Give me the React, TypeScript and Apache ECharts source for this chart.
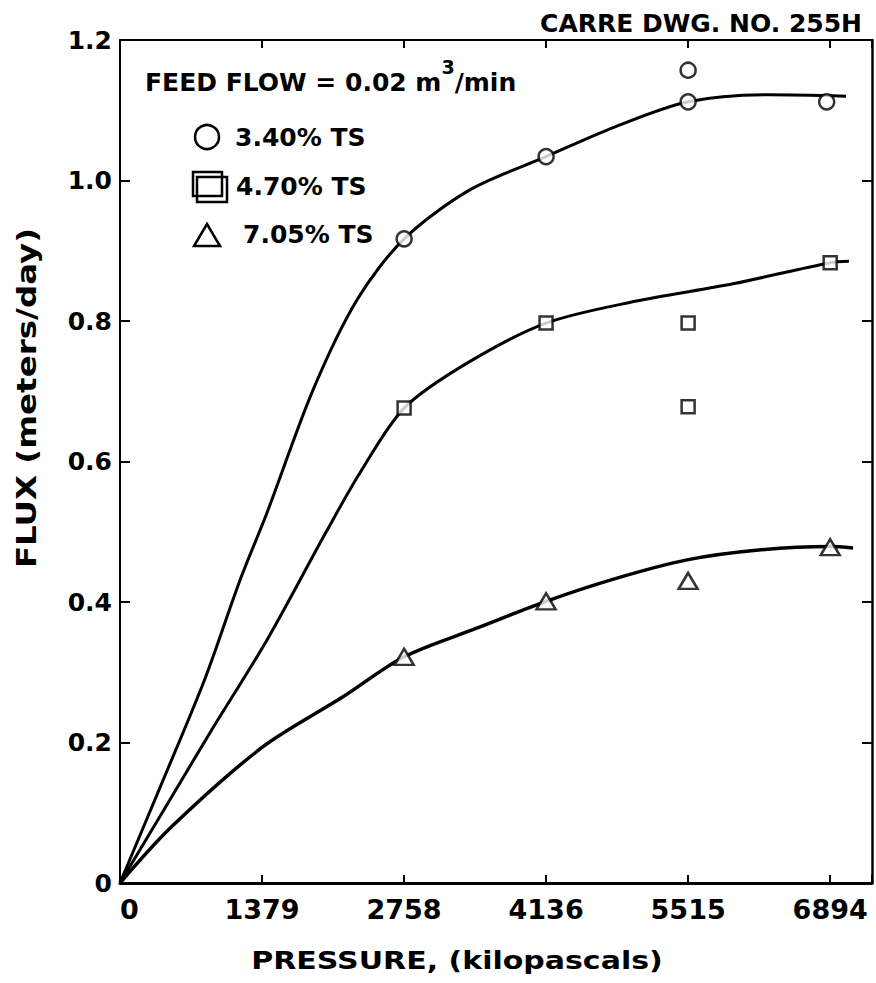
import React, { useEffect, useRef } from "react";
import * as echarts from "echarts";

// ---- data ----
const xTickStep = 1378.8;
const xTickLabels = ["0", "1379", "2758", "4136", "5515", "6894"];
const yTickStep = 0.2;
const yTickLabels = ["0", "0.2", "0.4", "0.6", "0.8", "1.0", "1.2"];

const seriesNames = ["3.40% TS", "4.70% TS", "7.05% TS"];

// measured points
const circlePts = [
  [2758, 0.917],
  [4136, 1.034],
  [5515, 1.157],
  [5515, 1.112],
  [6860, 1.112],
];
const squarePts = [
  [2758, 0.676],
  [4136, 0.797],
  [5515, 0.797],
  [5515, 0.678],
  [6894, 0.883],
];
const trianglePts = [
  [2758, 0.322],
  [4136, 0.401],
  [5515, 0.43],
  [6894, 0.478],
];

// fitted curves
const curve340 = [
  [0, 0], [400, 0.14], [820, 0.289], [1165, 0.431], [1427, 0.527], [1874, 0.702],
  [2300, 0.83], [2758, 0.917], [3400, 0.987], [4136, 1.034], [4800, 1.076],
  [5515, 1.112], [6300, 1.122], [7048, 1.12],
];
const curve470 = [
  [0, 0], [450, 0.11], [874, 0.214], [1427, 0.346], [2010, 0.502], [2330, 0.584],
  [2758, 0.676], [3369, 0.74], [4136, 0.797], [5000, 0.828], [5951, 0.853],
  [6894, 0.883], [7077, 0.885],
];
const curve705 = [
  [0, 0], [500, 0.08], [1388, 0.194], [2165, 0.265], [2758, 0.322], [3450, 0.362],
  [4136, 0.401], [4800, 0.433], [5504, 0.46], [6200, 0.474], [6894, 0.479],
  [7116, 0.477],
];

const FONT = '"DejaVu Sans", "Liberation Sans", sans-serif';

export default function App() {
  const ref = useRef<HTMLDivElement>(null);
  useEffect(() => {
    if (!ref.current) return;
    const chart = echarts.init(ref.current, undefined, { renderer: "svg" });

    const xFmt = (v: number) => {
      const i = Math.round(v / xTickStep);
      return Math.abs(v - i * xTickStep) < 1 && i < xTickLabels.length ? xTickLabels[i] : "";
    };
    const yFmt = (v: number) => {
      const i = Math.round(v / yTickStep);
      return Math.abs(v - i * yTickStep) < 1e-6 && i < yTickLabels.length ? yTickLabels[i] : "";
    };

    const baseX = {
      type: "value",
      min: 0,
      max: 7300,
      interval: xTickStep,
      splitLine: { show: false },
      axisTick: { show: true, inside: true, length: 8, lineStyle: { color: "#000", width: 2 } },
    };
    const baseY = {
      type: "value",
      min: 0,
      max: 1.2,
      interval: yTickStep,
      splitLine: { show: false },
      axisTick: { show: true, inside: true, length: 10, lineStyle: { color: "#000", width: 2 } },
    };

    const lineSeries = (name: string, data: number[][], width: number) => ({
      name,
      type: "line",
      data,
      smooth: 0.3,
      symbol: "none",
      lineStyle: { color: "#000", width },
      z: 2,
      silent: true,
    });
    const markerStyle = { color: "#fff", borderColor: "#000", borderWidth: 2.5 };

    const legendStyle = { fill: "#000", fontFamily: FONT, fontWeight: "bold", fontSize: 25 };
    const shapeStyle = { fill: "#fff", stroke: "#000", lineWidth: 2.5 };

    chart.setOption({
      animation: false,
      grid: { left: 120, right: 4, top: 40, bottom: 100, containLabel: false },
      xAxis: [
        {
          ...baseX,
          position: "bottom",
          axisLine: { show: true, onZero: false, lineStyle: { color: "#000", width: 3 } },
          axisLabel: {
            show: true,
            formatter: xFmt,
            color: "#000",
            fontFamily: FONT,
            fontWeight: "bold",
            fontSize: 27,
            margin: 13,
            alignMinLabel: "left",
          },
        },
        {
          ...baseX,
          position: "top",
          axisLine: { show: true, onZero: false, lineStyle: { color: "#000", width: 2 } },
          axisLabel: { show: false },
        },
      ],
      yAxis: [
        {
          ...baseY,
          position: "left",
          axisLine: { show: true, onZero: false, lineStyle: { color: "#000", width: 2 } },
          axisLabel: {
            show: true,
            formatter: yFmt,
            color: "#000",
            fontFamily: FONT,
            fontWeight: "bold",
            fontSize: 25,
            margin: 8,
          },
        },
        {
          ...baseY,
          position: "right",
          axisLine: { show: true, onZero: false, lineStyle: { color: "#000", width: 2.5 } },
          axisLabel: { show: false },
        },
      ],
      series: [
        lineSeries(seriesNames[0], curve340, 3),
        lineSeries(seriesNames[1], curve470, 3),
        lineSeries(seriesNames[2], curve705, 3.5),
        {
          name: seriesNames[0],
          type: "scatter",
          data: circlePts,
          symbol: "circle",
          symbolSize: 15,
          itemStyle: markerStyle,
          z: 3,
        },
        {
          name: seriesNames[1],
          type: "scatter",
          data: squarePts,
          symbol: "rect",
          symbolSize: 13,
          itemStyle: markerStyle,
          z: 3,
        },
        {
          name: seriesNames[2],
          type: "scatter",
          data: trianglePts,
          symbol: "triangle",
          symbolSize: [19, 16],
          itemStyle: markerStyle,
          z: 3,
        },
      ],
      graphic: [
        {
          type: "text",
          x: 862,
          y: 23,
          style: { ...legendStyle, text: "CARRE DWG. NO. 255H", align: "right", verticalAlign: "middle" },
        },
        {
          type: "text",
          x: 145,
          y: 57,
          style: {
            text: "{a|FEED FLOW = 0.02 m}{b|3}{a|/min}",
            align: "left",
            verticalAlign: "top",
            rich: {
              a: { ...legendStyle, lineHeight: 25, verticalAlign: "bottom" },
              b: { ...legendStyle, fontSize: 19, lineHeight: 38, verticalAlign: "top" },
            },
          },
        },
        { type: "circle", shape: { cx: 207, cy: 137, r: 12 }, style: shapeStyle },
        { type: "rect", shape: { x: 193, y: 172, width: 29, height: 24 }, style: { ...shapeStyle, fill: "none" } },
        { type: "rect", shape: { x: 197, y: 177, width: 30, height: 25 }, style: { ...shapeStyle, fill: "none" } },
        {
          type: "polygon",
          shape: { points: [[207, 224], [194, 246], [220, 246]] },
          style: shapeStyle,
        },
        { type: "text", x: 235, y: 137, style: { ...legendStyle, text: seriesNames[0], align: "left", verticalAlign: "middle" } },
        { type: "text", x: 236, y: 186, style: { ...legendStyle, text: seriesNames[1], align: "left", verticalAlign: "middle" } },
        { type: "text", x: 243, y: 234, style: { ...legendStyle, text: seriesNames[2], align: "left", verticalAlign: "middle" } },
        {
          type: "text",
          x: 457,
          y: 960,
          scaleX: 1.2,
          style: { ...legendStyle, fontSize: 25, text: "PRESSURE, (kilopascals)", align: "center", verticalAlign: "middle" },
        },
        {
          type: "text",
          x: 27,
          y: 398,
          rotation: Math.PI / 2,
          scaleX: 1.25,
          style: { ...legendStyle, fontSize: 26, text: "FLUX (meters/day)", align: "center", verticalAlign: "middle" },
        },
      ],
    });
    return () => chart.dispose();
  }, []);
  return (
    <div
      ref={ref}
      style={{ position: "absolute", left: 0, top: 0, width: 876, height: 983, background: "#fff" }}
    />
  );
}
